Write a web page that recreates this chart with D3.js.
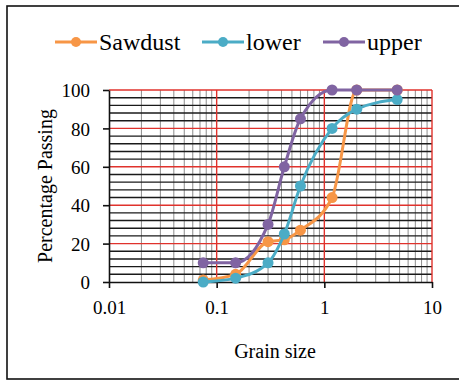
<!DOCTYPE html>
<html>
<head>
<meta charset="utf-8">
<script src="https://cdn.jsdelivr.net/npm/d3@7"></script>
<style>
  body { margin: 0; background: #fff; }
  svg text { font-family: "Liberation Serif", "Tinos", "Times New Roman", "DejaVu Serif", serif !important; fill: #000; }
</style>
</head>
<body>
<div id="chart"></div>
<script>
// sieve sizes (grain size) and percentage passing for each series
var sizes = [0.075, 0.15, 0.3, 0.425, 0.6, 1.18, 2, 4.75];
var sawdust = [1, 4, 21, 22, 27, 44, 100, 100];
var lower = [0, 2, 10, 25, 50, 80, 90, 95];
var upper = [10, 10, 30, 60, 85, 100, 100, 100];
var seriesNames = ["Sawdust", "lower", "upper"];
var xTicks = [0.01, 0.1, 1, 10];
var yTicks = [0, 20, 40, 60, 80, 100];

var colors = { Sawdust: "#F79646", lower: "#4BACC6", upper: "#8064A2" };
var serif = "'Liberation Serif', Tinos, 'Times New Roman', 'DejaVu Serif', serif";

// set the dimensions and margins of the graph
var margin = {top: 90, right: 27, bottom: 99, left: 109},
    W = 459, H = 381,
    width = W - margin.left - margin.right,
    height = H - margin.top - margin.bottom;

var root = d3.select("#chart")
  .append("svg")
    .attr("width", W)
    .attr("height", H);

// outer frame
root.append("rect")
    .attr("x", 7).attr("y", 6)
    .attr("width", 470).attr("height", 373)
    .attr("fill", "none")
    .attr("stroke", "#111")
    .attr("stroke-width", 1.6);

var svg = root.append("g")
    .attr("transform", "translate(" + margin.left + "," + margin.top + ")");

var x = d3.scaleLog().domain([0.01, 10]).range([0, width]);
var y = d3.scaleLinear().domain([0, 100]).range([height, 0]);

// minor vertical grid (2..9 of each decade)
var minorX = [];
[0.01, 0.1, 1].forEach(function(d) {
  for (var k = 2; k <= 9; k++) minorX.push(d * k);
});
svg.selectAll(".vminor")
  .data(minorX)
  .enter().append("line")
    .attr("x1", function(d) { return x(d); })
    .attr("x2", function(d) { return x(d); })
    .attr("y1", 0).attr("y2", height)
    .attr("stroke", "#8c8c8c")
    .attr("stroke-width", 1);

// minor horizontal grid, every 4
var minorY = d3.range(4, 100, 4).filter(function(d) { return d % 20 != 0; });
svg.selectAll(".hminor")
  .data(minorY)
  .enter().append("line")
    .attr("x1", 0).attr("x2", width)
    .attr("y1", function(d) { return y(d); })
    .attr("y2", function(d) { return y(d); })
    .attr("stroke", "#1a1a1a")
    .attr("stroke-width", 1.4);

// major horizontal grid (red)
svg.selectAll(".hmajor")
  .data(yTicks.filter(function(d) { return d > 0; }))
  .enter().append("line")
    .attr("x1", 0).attr("x2", width)
    .attr("y1", function(d) { return y(d); })
    .attr("y2", function(d) { return y(d); })
    .attr("stroke", "#e0322c")
    .attr("stroke-width", 1.4);

// major vertical grid (red)
svg.selectAll(".vmajor")
  .data(xTicks.slice(1))
  .enter().append("line")
    .attr("x1", function(d) { return x(d); })
    .attr("x2", function(d) { return x(d); })
    .attr("y1", 0).attr("y2", height)
    .attr("stroke", "#e0322c")
    .attr("stroke-width", 1.4);

// Add X axis
var xAxis = svg.append("g")
    .attr("transform", "translate(0," + height + ")")
    .call(d3.axisBottom(x).tickValues(xTicks).tickFormat(d3.format("")).tickSizeInner(6).tickSizeOuter(0));

// Add Y axis
var yAxis = svg.append("g")
    .call(d3.axisLeft(y).tickValues(yTicks).tickSizeInner(6).tickSizeOuter(0).tickPadding(13));

[xAxis, yAxis].forEach(function(a) {
  a.attr("font-family", serif);
  a.select(".domain").attr("stroke", "#111").attr("stroke-width", 1.6);
  a.selectAll(".tick line").attr("stroke", "#111").attr("stroke-width", 1.6);
  a.selectAll(".tick text")
    .style("font-family", serif)
    .attr("font-size", "19px")
    .attr("fill", "#000");
});
xAxis.selectAll(".tick text").attr("dy", "1.2em");
yAxis.selectAll(".tick text").attr("dy", "0.35em");

// lines
var line = d3.line()
    .x(function(d) { return x(d[0]); })
    .y(function(d) { return y(d[1]); })
    .curve(d3.curveMonotoneX);

var series = [
  { name: "Sawdust", values: sawdust },
  { name: "lower", values: lower },
  { name: "upper", values: upper }
];

series.forEach(function(s) {
  var pts = sizes.map(function(d, i) { return [d, s.values[i]]; });
  var g = svg.append("g");
  g.append("path")
    .datum(pts)
    .attr("d", line)
    .attr("fill", "none")
    .attr("stroke", colors[s.name])
    .attr("stroke-width", 3);
  g.selectAll("circle")
    .data(pts)
    .enter().append("circle")
      .attr("cx", function(d) { return x(d[0]); })
      .attr("cy", function(d) { return y(d[1]); })
      .attr("r", 5.5)
      .attr("fill", colors[s.name]);
});

// legend
var legendX = [55, 202, 323];
var legend = root.selectAll(".legend")
  .data(seriesNames)
  .enter().append("g")
    .attr("transform", function(d, i) { return "translate(" + legendX[i] + ",42)"; });
legend.append("line")
    .attr("x1", 0).attr("x2", 42)
    .attr("y1", 0).attr("y2", 0)
    .attr("stroke", function(d) { return colors[d]; })
    .attr("stroke-width", 3);
legend.append("circle")
    .attr("cx", 21).attr("cy", 0).attr("r", 5)
    .attr("fill", function(d) { return colors[d]; });
legend.append("text")
    .attr("x", 44).attr("y", 0)
    .attr("dy", "0.35em")
    .style("font-family", serif)
    .attr("font-size", "24px")
    .text(function(d) { return d; });

// axis titles
root.append("text")
    .attr("x", 275).attr("y", 358)
    .attr("text-anchor", "middle")
    .style("font-family", serif)
    .attr("font-size", "20px")
    .text("Grain size");

root.append("text")
    .attr("transform", "translate(52,186) rotate(-90)")
    .attr("text-anchor", "middle")
    .style("font-family", serif)
    .attr("font-size", "20px")
    .text("Percentage Passing");
</script>
</body>
</html>
